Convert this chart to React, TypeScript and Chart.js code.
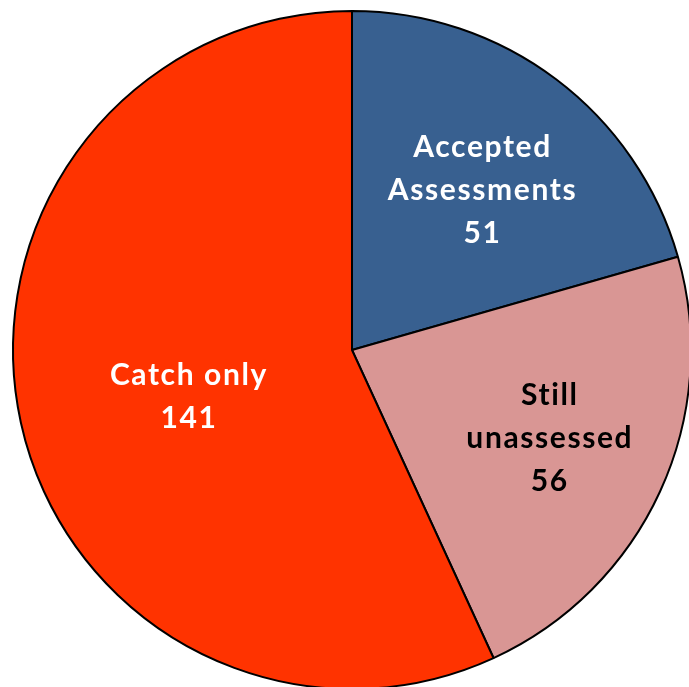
import React, { useEffect, useRef } from "react";
import { Chart, registerables } from "chart.js";

Chart.register(...registerables);

const categories = ["Accepted Assessments", "Still unassessed", "Catch only"];
const values = [51, 56, 141];
const labelLines = [["Accepted", "Assessments", "51"], ["Still", "unassessed", "56"], ["Catch only", "141"]];
const colors = ["#386090", "#D99694", "#FF3300"];
const textColors = ["#FFFFFF", "#000000", "#FFFFFF"];
const labelRadiusFrac = [0.608, 0.637, 0.503];
const labelAngleShiftDeg = [2, -0.5, -3.7];

const labelPlugin = {
  id: "sliceLabels",
  afterDatasetsDraw(chart: any) {
    const ctx = chart.ctx;
    const meta = chart.getDatasetMeta(0);
    ctx.save();
    ctx.font = "bold 30px Lato, 'Open Sans', sans-serif";
    (ctx as any).letterSpacing = "1.6px";
    ctx.textAlign = "center";
    ctx.textBaseline = "middle";
    const lh = 43;
    meta.data.forEach((arc: any, i: number) => {
      const p = arc.getProps(["x", "y", "startAngle", "endAngle", "outerRadius"], true);
      const mid = (p.startAngle + p.endAngle) / 2 + (labelAngleShiftDeg[i] * Math.PI) / 180;
      const r = p.outerRadius * labelRadiusFrac[i];
      const cx = p.x + Math.cos(mid) * r;
      const cy = p.y + Math.sin(mid) * r;
      const lines = labelLines[i];
      ctx.fillStyle = textColors[i];
      lines.forEach((t, j) => {
        ctx.fillText(t, cx + 0.8, cy + (j - (lines.length - 1) / 2) * lh);
      });
    });
    ctx.restore();
  },
};

export default function App() {
  const ref = useRef<HTMLCanvasElement>(null);
  useEffect(() => {
    const chart = new Chart(ref.current!, {
      type: "pie",
      data: {
        labels: categories,
        datasets: [
          {
            data: values,
            backgroundColor: colors,
            borderColor: "#000000",
            borderWidth: 2,
          },
        ],
      },
      options: {
        animation: false,
        responsive: false,
        layout: { padding: 10 },
        plugins: { legend: { display: false }, tooltip: { enabled: false } },
      },
      plugins: [labelPlugin],
    });
    return () => chart.destroy();
  }, []);
  return (
    <div style={{ position: "fixed", left: 0, top: 0, width: 689, height: 687, overflow: "hidden", background: "#fff" }}>
      <canvas ref={ref} width={704} height={700} style={{ display: "block", width: 704, height: 700 }} />
    </div>
  );
}
